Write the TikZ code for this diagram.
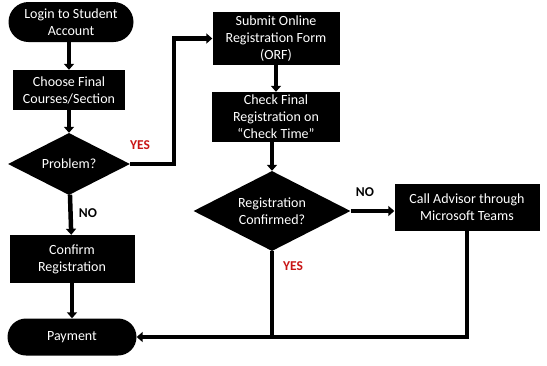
\documentclass[tikz,border=0pt]{standalone}
\usepackage{fontspec}
\setmainfont{Carlito}
\usetikzlibrary{shapes.geometric,shapes.misc,arrows.meta}
\definecolor{yesred}{RGB}{200,20,20}
\begin{document}
\begin{tikzpicture}[x=1pt,y=-1pt,
  every node/.style={font=\fontsize{14}{17}\selectfont, text=white, align=center, inner sep=0pt},
  boxnode/.style={rectangle, fill=black},
  termnode/.style={rounded rectangle, fill=black},
  decnode/.style={diamond, fill=black},
  lnk/.style={line width=4.5pt},
  arr/.style={line width=4.5pt, -{Triangle[width=10pt,length=6pt]}},
  lbl/.style={font=\fontsize{13.5}{15}\selectfont\bfseries, text=black},
  ylbl/.style={font=\fontsize{13.5}{15}\selectfont\bfseries, text=yesred}]
\useasboundingbox (0,0) rectangle (547,365);
\node[termnode, minimum width=125pt, minimum height=40pt] (login) at (71,22) {Login to Student\\Account};
\node[boxnode, minimum width=112pt, minimum height=40pt] (choose) at (69,90) {Choose Final\\Courses/Section};
\node[decnode, minimum width=122pt, minimum height=62pt, aspect=1.97] (problem) at (69,164) {Problem?};
\node[boxnode, minimum width=127pt, minimum height=53pt] (submit) at (276,38.5) {Submit Online\\Registration Form\\(ORF)};
\node[boxnode, minimum width=128pt, minimum height=50pt] (check) at (276,117) {Check Final\\Registration on\\“Check Time”};
\node[decnode, minimum width=157pt, minimum height=80pt, aspect=1.96] (regconf) at (272,211) {Registration\\Confirmed?};
\node[boxnode, minimum width=145pt, minimum height=47pt] (call) at (467,207) {Call Advisor through\\Microsoft Teams};
\node[boxnode, minimum width=125pt, minimum height=48pt] (confirm) at (72,259) {Confirm\\Registration};
\node[termnode, minimum width=129pt, minimum height=37pt] (payment) at (72,337) {Payment};
\draw[arr] (login.south -| choose.north) -- (choose.north);
\draw[arr] (choose) -- (problem);
\draw[arr] (problem.east) -- ++(44,0) |- (submit.west);
\draw[arr] (submit) -- (check);
\draw[arr] (check.south -| regconf.north) -- (regconf.north);
\draw[arr] (regconf.east) -- (regconf.east -| call.west);
\draw[arr] (problem) -- (confirm);
\draw[arr] (confirm) -- (payment);
\draw[lnk] (regconf.south) -- (regconf.south |- payment.east);
\draw[arr] (call.south) |- (payment.east);
\node[ylbl] (yes1) at (140,145) {YES};
\node[lbl] (no1) at (88,213) {NO};
\node[lbl] (no2) at (365,192) {NO};
\node[ylbl] (yes2) at (293,266) {YES};
\end{tikzpicture}
\end{document}
